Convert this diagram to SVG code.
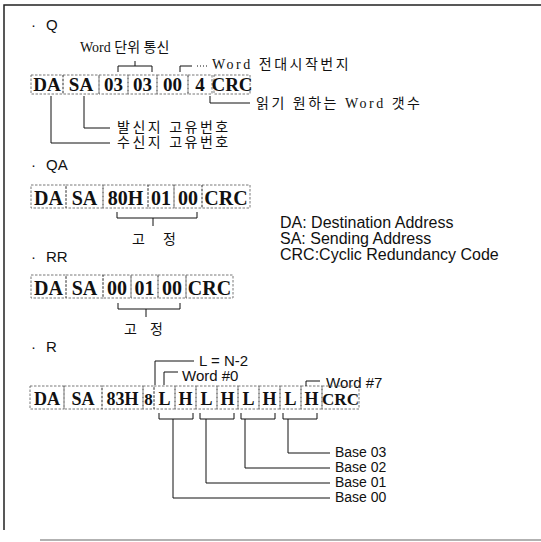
<svg xmlns="http://www.w3.org/2000/svg" width="541" height="542" viewBox="0 0 541 542">
<style>
.bg{fill:#fff}
.frame{stroke:#222;stroke-width:1.5;fill:none}
.frame2{stroke:#999;stroke-width:1.5;fill:none}
.fld{fill:none;stroke:#555;stroke-width:0.8;stroke-dasharray:2.5 1.5}
.bx{font-family:"Liberation Serif","Times New Roman",serif;font-weight:bold;fill:#111;text-anchor:middle}
.sec{font-family:"Liberation Sans",Arial,sans-serif;font-size:15px;fill:#111}
.kr{font-family:"Liberation Serif","Noto Sans CJK KR",serif;font-size:14px;letter-spacing:2.5px;fill:#111}
.kr2{font-family:"Liberation Serif","Noto Sans CJK KR",serif;font-size:14px;fill:#111}
.lg{font-family:"Liberation Sans",Arial,sans-serif;font-size:16px;fill:#111}
.lb{font-family:"Liberation Sans",Arial,sans-serif;font-size:15px;fill:#111}
.bs{font-family:"Liberation Sans",Arial,sans-serif;font-size:14px;fill:#111}
.ln{stroke:#111;stroke-width:1;fill:none}
</style>
<rect class="bg" x="0" y="0" width="541" height="542"/>
<g id="frame">
<polyline class="frame" points="541,5 4,5 4,530"/>
<line class="frame2" x1="40" y1="540" x2="541" y2="540"/>
</g>

<g id="sec-q">
<text class="sec" x="31" y="30">·</text><text class="sec" x="46" y="30">Q</text>
<text class="kr2" x="80" y="52">Word 단위 통신</text>
<text class="kr" x="212" y="69">Word 전대시작번지</text>
<text class="kr" x="256" y="108">읽기 원하는 Word 갯수</text>
<text class="kr" x="117" y="132">발신지 고유번호</text>
<text class="kr" x="117" y="147">수신지 고유번호</text>
</g>
<g id="row-q">
<rect class="fld" x="31" y="75" width="32" height="19"/><text class="bx" x="47" y="91" font-size="19">DA</text>
<rect class="fld" x="63" y="75" width="36" height="19"/><text class="bx" x="81" y="91" font-size="19">SA</text>
<rect class="fld" x="99" y="75" width="29" height="19"/><text class="bx" x="113.5" y="91" font-size="19">03</text>
<rect class="fld" x="128" y="75" width="29" height="19"/><text class="bx" x="142.5" y="91" font-size="19">03</text>
<rect class="fld" x="157" y="75" width="31" height="19"/><text class="bx" x="172.5" y="91" font-size="19">00</text>
<rect class="fld" x="188" y="75" width="24" height="19"/><text class="bx" x="200" y="91" font-size="19">4</text>
<rect class="fld" x="214" y="75" width="36" height="19"/><text class="bx" x="232" y="91" font-size="19">CRC</text>
</g>

<g id="sec-qa">
<text class="sec" x="31" y="170">·</text><text class="sec" x="46" y="170">QA</text>
<text class="kr" x="132" y="244">고</text>
<text class="kr" x="163" y="244">정</text>
</g>
<g id="row-qa">
<rect class="fld" x="31" y="185" width="35" height="23"/><text class="bx" x="48.5" y="205" font-size="20">DA</text>
<rect class="fld" x="66" y="185" width="37" height="23"/><text class="bx" x="84.5" y="205" font-size="20">SA</text>
<rect class="fld" x="103" y="185" width="45" height="23"/><text class="bx" x="125.5" y="205" font-size="20">80H</text>
<rect class="fld" x="148" y="185" width="26" height="23"/><text class="bx" x="161" y="205" font-size="20">01</text>
<rect class="fld" x="174" y="185" width="28" height="23"/><text class="bx" x="188" y="205" font-size="20">00</text>
<rect class="fld" x="202" y="185" width="48" height="23"/><text class="bx" x="226" y="205" font-size="20">CRC</text>
</g>

<g id="legend">
<text class="lg" x="280" y="228">DA: Destination Address</text>
<text class="lg" x="280" y="244">SA: Sending Address</text>
<text class="lg" x="280" y="260">CRC:Cyclic Redundancy Code</text>
</g>

<g id="sec-rr">
<text class="sec" x="31" y="262">·</text><text class="sec" x="46" y="262">RR</text>
<text class="kr" x="124" y="334">고</text>
<text class="kr" x="150" y="334">정</text>
</g>
<g id="row-rr">
<rect class="fld" x="31" y="275" width="35" height="23"/><text class="bx" x="48.5" y="295" font-size="20">DA</text>
<rect class="fld" x="66" y="275" width="37" height="23"/><text class="bx" x="84.5" y="295" font-size="20">SA</text>
<rect class="fld" x="103" y="275" width="28" height="23"/><text class="bx" x="117" y="295" font-size="20">00</text>
<rect class="fld" x="131" y="275" width="27" height="23"/><text class="bx" x="144.5" y="295" font-size="20">01</text>
<rect class="fld" x="158" y="275" width="28" height="23"/><text class="bx" x="172" y="295" font-size="20">00</text>
<rect class="fld" x="186" y="275" width="47" height="23"/><text class="bx" x="209.5" y="295" font-size="20">CRC</text>
</g>

<g id="sec-r">
<text class="sec" x="31" y="352">·</text><text class="sec" x="46" y="352">R</text>
<text class="lb" x="199" y="366">L = N-2</text>
<text class="lb" x="182" y="381">Word #0</text>
<text class="lb" x="326" y="388">Word #7</text>
<text class="bs" x="335" y="457">Base 03</text>
<text class="bs" x="335" y="472">Base 02</text>
<text class="bs" x="335" y="487">Base 01</text>
<text class="bs" x="335" y="502">Base 00</text>
</g>
<g id="row-r">
<rect class="fld" x="30" y="386" width="34" height="23"/><text class="bx" x="47" y="405" font-size="18">DA</text>
<rect class="fld" x="64" y="386" width="38" height="23"/><text class="bx" x="83" y="405" font-size="18">SA</text>
<rect class="fld" x="102" y="386" width="41" height="23"/><text class="bx" x="122.5" y="405" font-size="18">83H</text>
<rect class="fld" x="143" y="386" width="11" height="23"/><text class="bx" x="148.5" y="405" font-size="17">8</text>
<rect class="fld" x="154" y="386" width="21" height="23"/><text class="bx" x="164.5" y="405" font-size="18">L</text>
<rect class="fld" x="175" y="386" width="21" height="23"/><text class="bx" x="185.5" y="405" font-size="18">H</text>
<rect class="fld" x="196" y="386" width="21" height="23"/><text class="bx" x="206.5" y="405" font-size="18">L</text>
<rect class="fld" x="217" y="386" width="21" height="23"/><text class="bx" x="227.5" y="405" font-size="18">H</text>
<rect class="fld" x="238" y="386" width="21" height="23"/><text class="bx" x="248.5" y="405" font-size="18">L</text>
<rect class="fld" x="259" y="386" width="21" height="23"/><text class="bx" x="269.5" y="405" font-size="18">H</text>
<rect class="fld" x="280" y="386" width="21" height="23"/><text class="bx" x="290.5" y="405" font-size="18">L</text>
<rect class="fld" x="301" y="386" width="21" height="23"/><text class="bx" x="311.5" y="405" font-size="18">H</text>
<rect class="fld" x="322" y="386" width="37" height="23"/><text class="bx" x="340.5" y="405" font-size="17">CRC</text>
</g>

<g id="connectors">
<!-- Q -->
<polyline class="ln" points="118,72 118,66 152,66 152,72"/>
<line class="ln" x1="135" y1="66" x2="135" y2="61"/>
<polyline class="ln" points="180,72 180,66 192,66"/>
<line class="ln" x1="197" y1="66" x2="208" y2="66" stroke-dasharray="1 2"/>
<polyline class="ln" points="210,96 210,103 250,103"/>
<polyline class="ln" points="84,96 84,128 110,128"/>
<polyline class="ln" points="51,96 51,143 110,143"/>
<!-- QA -->
<polyline class="ln" points="117,212 117,218 197,218 197,212"/>
<line class="ln" x1="153" y1="218" x2="153" y2="226"/>
<!-- RR -->
<polyline class="ln" points="118,303 118,309 180,309 180,303"/>
<line class="ln" x1="146" y1="309" x2="146" y2="317"/>
<!-- R -->
<polyline class="ln" points="155,385 155,361 194,361"/>
<polyline class="ln" points="164,385 164,372 178,372"/>
<polyline class="ln" points="306,386 306,381 320,381"/>
<polyline class="ln" points="159,413 159,419 193,419 193,413"/>
<polyline class="ln" points="200,413 200,419 234,419 234,413"/>
<polyline class="ln" points="241,413 241,419 275,419 275,413"/>
<polyline class="ln" points="283,413 283,419 317,419 317,413"/>
<polyline class="ln" points="173,419 173,498 330,498"/>
<polyline class="ln" points="206,419 206,483 330,483"/>
<polyline class="ln" points="245,419 245,468 330,468"/>
<polyline class="ln" points="288,419 288,453 330,453"/>
</g>
</svg>
